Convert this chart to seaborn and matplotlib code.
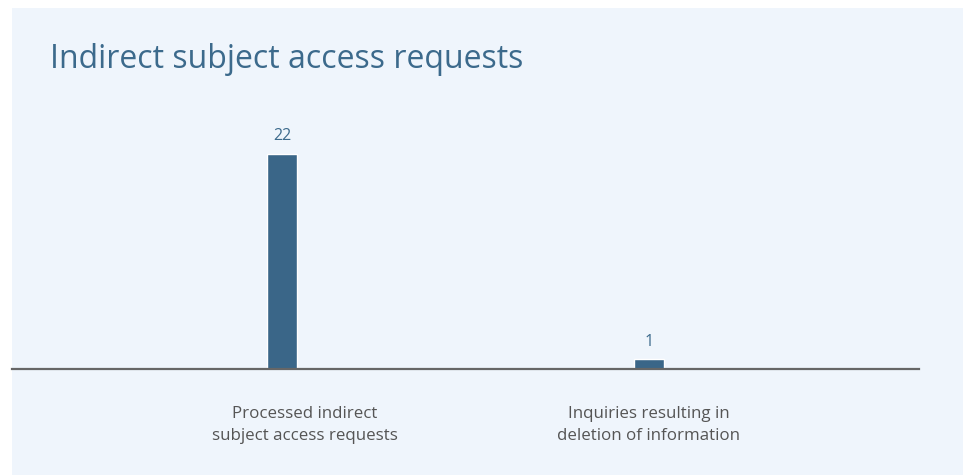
import pandas as pd
import seaborn as sns
import matplotlib.pyplot as plt
import matplotlib.transforms as mtransforms
from matplotlib.patches import Rectangle

# data
categories = ['Processed indirect\nsubject access requests', 'Inquiries resulting in\ndeletion of information']
counts = [22, 1]
title = 'Indirect subject access requests'

barColor = '#3A6688'
panelColor = '#EFF5FC'

df = pd.DataFrame({'category': categories, 'count': counts})

sns.set_style('white')
plt.rcParams['font.family'] = ['Open Sans', 'DejaVu Sans']

W, H = 963, 475
fig = plt.figure(figsize=(W / 100, H / 100), dpi=100)
fig.patch.set_facecolor('white')
fig.patches.append(Rectangle((12 / W, 0), 1, (H - 8) / H, transform=fig.transFigure,
                             facecolor=panelColor, edgecolor='none', zorder=-10))

ax = fig.add_axes([12 / W, (H - 369) / H, 907 / W, (369 - 110) / H])
ax.set_facecolor('none')
ax.patch.set_alpha(0)
sns.barplot(data=df, x='category', y='count', color=barColor, width=0.082,
            saturation=1, ax=ax)

ax.set_xlim(-0.736, 1.736)
ax.set_ylim(0, 26.5)
for c in ax.containers:
    ax.bar_label(c, padding=7, color='#3C6A8C', fontsize=11.5)

for s in ['top', 'right', 'left']:
    ax.spines[s].set_visible(False)
ax.spines['bottom'].set_color('#666666')
ax.spines['bottom'].set_linewidth(1.6)
ax.set_yticks([])
ax.set_xlabel('')
ax.set_ylabel('')
ax.tick_params(axis='x', length=0, pad=27, labelsize=12.2, labelcolor='#555555')
for lbl in ax.get_xticklabels():
    lbl.set_linespacing(1.5)
# first label sits a bit right of its bar in the original
first = ax.get_xticklabels()[0]
first.set_transform(first.get_transform() + mtransforms.ScaledTranslation(0.23, 0, fig.dpi_scale_trans))

fig.text(50 / W, 1 - 60 / H, title, fontsize=23, color='#3C6A8C', va='center', ha='left')

fig.savefig('out.png', dpi=100, facecolor=fig.get_facecolor())
